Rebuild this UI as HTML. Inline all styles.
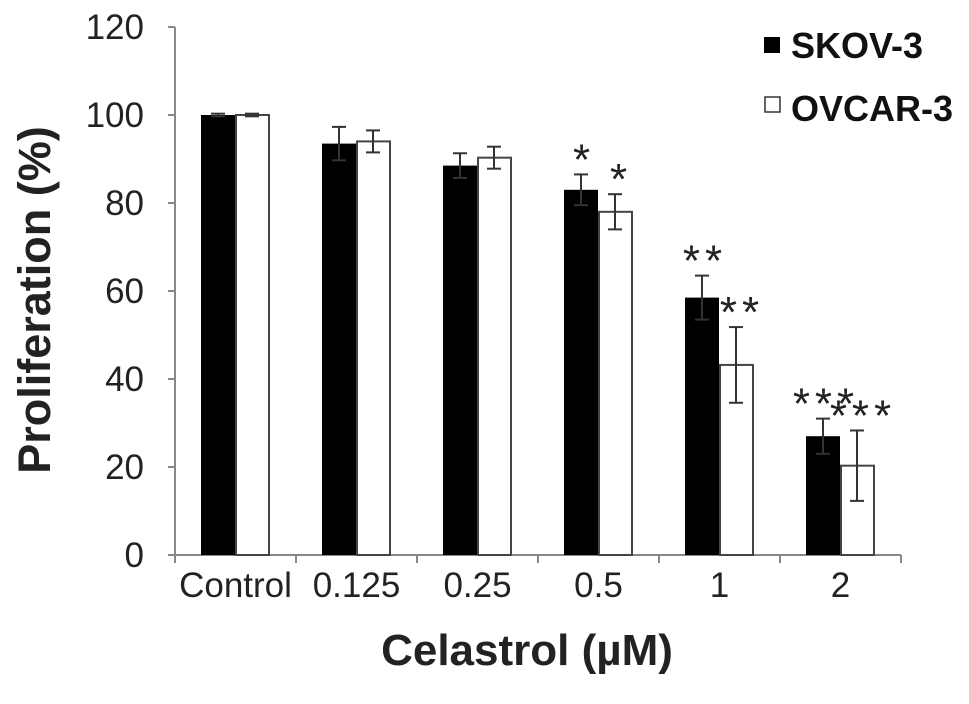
<!DOCTYPE html>
<html><head><meta charset="utf-8"><style>
html,body{margin:0;padding:0;background:#fff;}
svg{display:block;font-family:"Liberation Sans",Arial,sans-serif;}
</style></head><body>
<svg id="chart" width="969" height="704" viewBox="0 0 969 704">
<g id="plot"></g>
<text x="527" y="665" font-size="44" font-weight="bold" text-anchor="middle" fill="#222">Celastrol (µM)</text>
<text transform="translate(50,300) rotate(-90)" font-size="45" font-weight="bold" text-anchor="middle" fill="#222">Proliferation (%)</text>
<g>
<rect x="764" y="37" width="16" height="16" fill="#000"/>
<text x="791" y="58" font-size="36" font-weight="bold" fill="#111">SKOV-3</text>
<rect x="765" y="97" width="15" height="15" fill="#fff" stroke="#333" stroke-width="1.5"/>
<text x="791" y="121" font-size="36" font-weight="bold" fill="#111">OVCAR-3</text>
</g>
</svg>
<script>
const categories = ["Control","0.125","0.25","0.5","1","2"];
const skovValues = [100,93.5,88.5,83,58.5,27];
const skovErrors = [0.3,3.8,2.8,3.5,5,4];
const ovcarValues = [100,94,90.3,78,43.2,20.3];
const ovcarErrors = [0.3,2.5,2.5,4,8.6,8];
const skovStars = ["","","","*","**","***"];
const ovcarStars = ["","","","*","**","***"];
const yTicks = [0,20,40,60,80,100,120];

const NS = "http://www.w3.org/2000/svg";
const g = document.getElementById("plot");
const x0 = 175, groupW = 121, y0 = 555, pxPerUnit = 4.4;
const yScale = v => y0 - v * pxPerUnit;
const xGroup = i => x0 + groupW * i;
function mk(tag, attrs){ const e = document.createElementNS(NS, tag); for (const k in attrs) e.setAttribute(k, attrs[k]); g.appendChild(e); return e; }

let ax = mk("line",{x1:x0,y1:yScale(120),x2:x0,y2:y0,stroke:"#888","stroke-width":2});


yTicks.forEach(t=>{
  const tl = mk("line",{x1:x0-7,y1:yScale(t),x2:x0,y2:yScale(t),stroke:"#888","stroke-width":2});
  
  
  const tx = mk("text",{x:x0-31,y:yScale(t)+12,"font-size":35,"text-anchor":"end",fill:"#222"});
  tx.textContent = t;
  
  
});
const xEnd = xGroup(categories.length);
let xa = mk("line",{x1:x0,y1:y0,x2:xEnd,y2:y0,stroke:"#888","stroke-width":2});


for (let i=0;i<=categories.length;i++){
  const tl = mk("line",{x1:xGroup(i),y1:y0,x2:xGroup(i),y2:y0+8,stroke:"#888","stroke-width":2});
  
  
}
categories.forEach((c,i)=>{
  const tx = mk("text",{x:xGroup(i)+groupW/2,y:y0+42,"font-size":35,"text-anchor":"middle",fill:"#222"});
  tx.textContent = c;
  
  
});

function errBar(cx, v, e){
  const t = yScale(v+e), b = yScale(v-e);
  const l = mk("line",{x1:cx,y1:t,x2:cx,y2:b,stroke:"#333","stroke-width":2});
  
  
  [t,b].forEach(y=>{
    const c = mk("line",{x1:cx-7,y1:y,x2:cx+7,y2:y,stroke:"#333","stroke-width":2});
    
    
  });
}
function stars(cx, top, s){
  if (!s) return;
  const tx = mk("text",{x:cx,y:top,"font-size":44,"text-anchor":"middle",fill:"#222","letter-spacing":"5"});
  tx.textContent = s;
  
  
}
const bw = 34;
categories.forEach((c,i)=>{
  const bx = xGroup(i) + 26;
  const r1 = mk("rect",{x:bx,y:yScale(skovValues[i]),width:bw,height:y0-yScale(skovValues[i]),fill:"#000"});
  
  
  const r2 = mk("rect",{x:bx+bw+1,y:yScale(ovcarValues[i]),width:bw-1,height:y0-yScale(ovcarValues[i]),fill:"#fff",stroke:"#444","stroke-width":2});
  
  
  errBar(bx+bw/2, skovValues[i], skovErrors[i]);
  errBar(bx+bw+bw/2, ovcarValues[i], ovcarErrors[i]);
  stars(bx+bw/2+3, yScale(skovValues[i]+skovErrors[i]), skovStars[i]);
  stars(bx+bw+bw/2+6, yScale(ovcarValues[i]+ovcarErrors[i]), ovcarStars[i]);
});
</script>
</body></html>
